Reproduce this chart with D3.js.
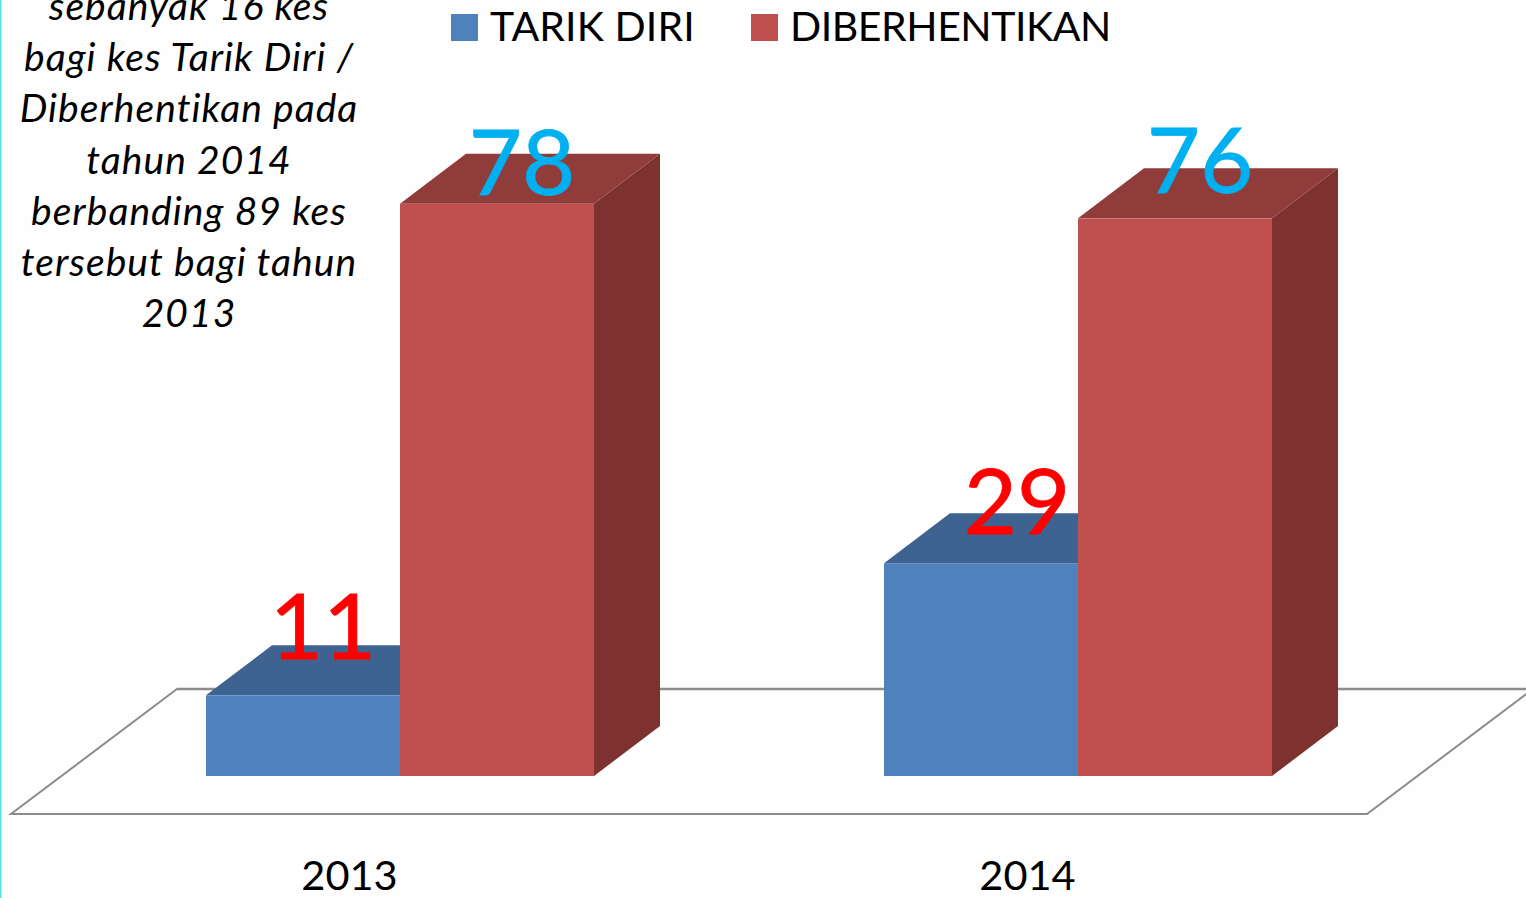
<!DOCTYPE html>
<html><head><meta charset="utf-8">
<script src="https://cdn.jsdelivr.net/npm/d3@7/dist/d3.min.js"></script>
<style>html,body{margin:0;padding:0;background:#fefefe;overflow:hidden}svg{display:block}</style>
</head><body><svg id="c" width="1526" height="898"></svg>
<script>
const categories = ["2013", "2014"];
const seriesNames = ["TARIK DIRI", "DIBERHENTIKAN"];
const tarikDiri = [11, 29];
const diberhentikan = [78, 76];
const noteLines = ["sebanyak 16 kes", "bagi kes Tarik Diri /", "Diberhentikan pada", "tahun 2014", "berbanding 89 kes", "tersebut bagi tahun", "2013"];

const FONT = "Lato, Carlito, Calibri, sans-serif";
const svg = d3.select("#c");
svg.append("rect").attr("x",0).attr("y",0).attr("width",1.5).attr("height",898).attr("fill","#55dff0");

const y = d3.scaleLinear().domain([0,80]).range([776,189]);
const x = d3.scaleBand().domain(categories).range([11,1367]);
const barW = 194, barOff = 195, dx = 66, dy = 50;
const floor = {dx:166, dy:125, front:38};

// floor
const fy = y(0)+floor.front, by = fy-floor.dy;
const [fx0,fx1] = x.range();
svg.append("path")
  .attr("d",`M${fx0},${fy}L${fx1},${fy}L${fx1+floor.dx},${by}L${fx0+floor.dx},${by}Z`)
  .attr("fill","#fff").attr("stroke","#8c8c8c").attr("stroke-width",2);
svg.append("line").attr("x1",fx0+floor.dx).attr("x2",fx1+floor.dx).attr("y1",by).attr("y2",by)
  .attr("stroke","#8c8c8c").attr("stroke-width",2.4);

const series = [
  {name:seriesNames[0], values:tarikDiri, front:"#4f81bd", top:"#3e6390", side:"#375a83", i:0},
  {name:seriesNames[1], values:diberhentikan, front:"#c0504d", top:"#8f3c3a", side:"#7d3230", i:1}
];
function drawBar(s,c,j){
  const x0 = x(c)+barOff+s.i*barW, x1 = x0+barW, y0=y(0), yt=y(s.values[j]);
  const g = svg.append("g");
  g.append("path").attr("d",`M${x1},${y0}L${x1+dx},${y0-dy}L${x1+dx},${yt-dy}L${x1},${yt}Z`).attr("fill",s.side);
  g.append("path").attr("d",`M${x0},${yt}L${x0+dx},${yt-dy}L${x1+dx},${yt-dy}L${x1},${yt}Z`).attr("fill",s.top);
  g.append("rect").attr("x",x0).attr("y",yt).attr("width",barW).attr("height",y0-yt).attr("fill",s.front);
}
categories.forEach((c,j)=>series.forEach(s=>drawBar(s,c,j)));

// data labels
const nudges = [[[20,-36],[25,-9]],[[36,-29],[25,-25]]];
const labelColor = ["#ff0000","#00b0f0"];
categories.forEach((c,j)=>series.forEach(s=>{
  const cx = x(c)+barOff+s.i*barW+barW/2;
  svg.append("text").attr("x",cx+nudges[j][s.i][0]).attr("y",y(s.values[j])+nudges[j][s.i][1])
    .attr("text-anchor","middle").attr("font-family",FONT).attr("font-size",92)
    .attr("fill",labelColor[s.i]).attr("stroke",labelColor[s.i]).attr("stroke-width",0.8).text(s.values[j]);
}));

// category axis
const ax = svg.append("g").attr("transform","translate(-0.5,890)")
  .call(d3.axisBottom(x).tickSize(0).tickPadding(0));
ax.select(".domain").remove();
ax.selectAll("text").attr("dy",0).attr("y",0).attr("font-family",FONT).attr("font-size",41.5).attr("fill","#000");

// legend
const legendX = [451,751];
const legendSpacing = [0.1,-0.45];
series.forEach(s=>{
  svg.append("rect").attr("x",legendX[s.i]).attr("y",14).attr("width",27).attr("height",27).attr("fill",s.front);
  svg.append("text").attr("x",legendX[s.i]+39).attr("y",41).attr("font-family",FONT).attr("font-size",41)
    .attr("letter-spacing",legendSpacing[s.i]).attr("fill","#000").text(s.name);
});

// note
svg.append("g").selectAll("text").data(noteLines).join("text")
  .attr("x",189).attr("y",(d,i)=>20+i*51.2).attr("text-anchor","middle")
  .attr("font-family",FONT).attr("font-style","italic").attr("font-size",39).attr("letter-spacing",1.05)
  .attr("fill","#000").text(d=>d);
</script></body></html>
